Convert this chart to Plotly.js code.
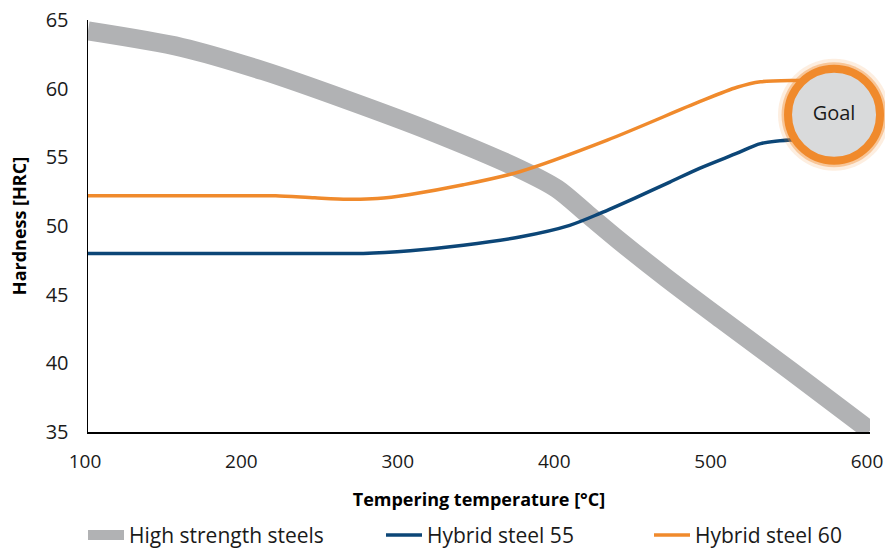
<!DOCTYPE html>
<html>
<head>
<meta charset="utf-8">
<script src="https://cdn.plot.ly/plotly-3.0.1.min.js"></script>
<style>html,body{margin:0;padding:0;background:#fff;}#chart{width:885px;height:552px;}</style>
</head>
<body>
<div id="chart"></div>
<script>
// Data
const seriesNames = ["High strength steels", "Hybrid steel 55", "Hybrid steel 60"];

const highStrengthTemp = [100, 160, 212, 265, 319, 376, 400, 420, 440, 470, 505, 550, 600];
const highStrengthHRC  = [64.2, 63.0, 61.3, 59.2, 56.9, 54.15, 52.7, 50.8, 48.9, 46.2, 43.2, 39.4, 35.1];

const hybrid55Temp = [100, 150, 200, 250, 276, 306, 340, 376, 408, 427, 450, 472, 491, 515, 530, 553, 575];
const hybrid55HRC  = [48.0, 48.0, 48.0, 48.0, 48.0, 48.2, 48.6, 49.2, 50.05, 50.9, 52.05, 53.2, 54.2, 55.3, 56.0, 56.3, 56.35];

const hybrid60Temp = [100, 150, 200, 220, 245, 266, 285, 306, 340, 376, 432, 491, 515, 530, 553, 575];
const hybrid60HRC  = [52.2, 52.2, 52.2, 52.2, 52.05, 51.95, 52.0, 52.3, 53.0, 53.95, 56.25, 59.05, 60.1, 60.5, 60.6, 60.6];

const goalTemp = [577];
const goalHRC = [58.1];
const goalLabel = ["Goal"];

const xTicks = [100, 200, 300, 400, 500, 600];
const yTicks = [35, 40, 45, 50, 55, 60, 65];

const GRAY = "#b1b2b4", BLUE = "#0c4677", ORANGE = "#f08a2c";
const FONT = "Open Sans, Noto Sans, sans-serif";

const traces = [
  {x: highStrengthTemp, y: highStrengthHRC, name: seriesNames[0], mode: "lines", legend: "legend",
   line: {color: GRAY, width: 19, shape: "spline", smoothing: 0.8}},
  {x: hybrid55Temp, y: hybrid55HRC, name: seriesNames[1], mode: "lines", legend: "legend2",
   line: {color: BLUE, width: 3.5, shape: "spline", smoothing: 0.8}},
  {x: hybrid60Temp, y: hybrid60HRC, name: seriesNames[2], mode: "lines", legend: "legend3",
   line: {color: ORANGE, width: 3.5, shape: "spline", smoothing: 0.8}},
  // goal glow layers
  {x: goalTemp, y: goalHRC, mode: "markers", showlegend: false, hoverinfo: "skip", cliponaxis: false,
   marker: {size: 112, color: ORANGE, opacity: 0.15, line: {width: 0}}},
  {x: goalTemp, y: goalHRC, mode: "markers", showlegend: false, hoverinfo: "skip", cliponaxis: false,
   marker: {size: 105, color: ORANGE, opacity: 0.4, line: {width: 0}}},
  {x: goalTemp, y: goalHRC, mode: "markers+text", showlegend: false, cliponaxis: false,
   text: goalLabel, textposition: "middle center",
   textfont: {family: FONT, size: 20, color: "#1a1a1a"},
   marker: {size: 92, color: "#d9dadb", line: {color: ORANGE, width: 8}}}
];

function legendAt(px) {
  return {orientation: "h", xref: "container", x: (px - 6) / 885, xanchor: "left",
          yref: "container", y: 0.03, yanchor: "middle", bgcolor: "rgba(0,0,0,0)",
          itemwidth: 36,
          font: {family: FONT, size: 21, color: "#1a1a1a"}};
}

const layout = {
  width: 885, height: 552,
  margin: {l: 88, r: 15, t: 20, b: 120, autoexpand: false},
  paper_bgcolor: "#fff", plot_bgcolor: "#fff",
  font: {family: FONT, size: 20, color: "#1a1a1a"},
  showlegend: true,
  legend: legendAt(89),
  legend2: legendAt(387),
  legend3: legendAt(655),
  xaxis: {range: [100, 600], tickvals: xTicks, ticktext: xTicks.map(String), automargin: false,
          showgrid: false, zeroline: false, showline: true, linecolor: "#000", linewidth: 1.5,
          ticks: "outside", ticklen: 12, tickcolor: "rgba(0,0,0,0)", ticklabelshift: -3,
          tickfont: {family: FONT, size: 19, color: "#1a1a1a"},
          title: {text: "Tempering temperature [°C]", standoff: 20,
                  font: {family: FONT, size: 18, color: "#000", weight: "bold"}}},
  yaxis: {range: [35, 65], tickvals: yTicks, ticktext: yTicks.map(String), automargin: false,
          showgrid: false, zeroline: false, showline: true, linecolor: "#000", linewidth: 1.5,
          ticks: "outside", ticklen: 14, tickcolor: "rgba(0,0,0,0)",
          tickfont: {family: FONT, size: 20, color: "#1a1a1a"},
          title: {text: "Hardness [HRC]", standoff: 14,
                  font: {family: FONT, size: 18, color: "#000", weight: "bold"}}}
};

Plotly.newPlot("chart", traces, layout, {displayModeBar: false, staticPlot: true});
</script>
</body>
</html>
